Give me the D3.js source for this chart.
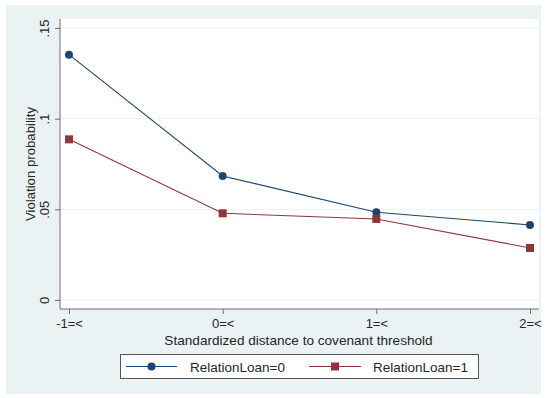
<!DOCTYPE html>
<html>
<head>
<meta charset="utf-8">
<script src="https://cdn.jsdelivr.net/npm/d3@7"></script>
<style>
  html, body { margin: 0; padding: 0; background: #ffffff; }
  svg { display: block; font-family: "Liberation Sans", Arial, sans-serif; }
</style>
</head>
<body>
<svg id="chart" width="548" height="398"></svg>
<script>
// Distance buckets along the x axis
const categories = ["-1=<", "0=<", "1=<", "2=<"];
// Predicted violation probability by relationship-loan status
const relation0 = [0.1353, 0.0684, 0.0484, 0.0414];
const relation1 = [0.0886, 0.0478, 0.0447, 0.0287];
const yTicks = [0, 0.05, 0.1, 0.15];
const yTickLabels = ["0", ".05", ".1", ".15"];
const seriesNames = ["RelationLoan=0", "RelationLoan=1"];

const svg = d3.select("#chart");
const navy = "#1a476f", maroon = "#90353b";
const ink = "#262626";

// outer graph region
svg.append("rect").attr("x", 6).attr("y", 5).attr("width", 535).attr("height", 389)
  .attr("fill", "#eaf2f3");

const plot = { left: 60, right: 539, top: 19, bottom: 309 };
svg.append("rect").attr("x", plot.left).attr("y", plot.top)
  .attr("width", plot.right - plot.left).attr("height", plot.bottom - plot.top)
  .attr("fill", "#ffffff");

const x = d3.scalePoint().domain(categories).range([69, 530]);
const y = d3.scaleLinear().domain([0, 0.15]).range([300, 28]);

// gridlines
svg.append("g").selectAll("line").data(yTicks).join("line")
  .attr("x1", plot.left).attr("x2", plot.right)
  .attr("y1", d => y(d)).attr("y2", d => y(d))
  .attr("stroke", "#eaf2f3").attr("stroke-width", 1);

// y axis with vertical tick labels
const yAxis = svg.append("g").attr("transform", `translate(${plot.left},0)`)
  .call(d3.axisLeft(y).tickValues(yTicks).tickFormat((d, i) => yTickLabels[i]).tickSize(5));
yAxis.select(".domain").attr("stroke", "#6e6e6e").attr("d", `M0,${plot.top}V${plot.bottom}`);
yAxis.selectAll(".tick line").attr("stroke", "#6e6e6e");
yAxis.selectAll(".tick text")
  .attr("font-size", 13).attr("fill", ink)
  .attr("x", 0).attr("y", 0).attr("dy", "0.35em")
  .attr("text-anchor", "middle")
  .attr("transform", "translate(-16,0) rotate(-90)");

// x axis
const xAxis = svg.append("g").attr("transform", `translate(0,${plot.bottom})`)
  .call(d3.axisBottom(x).tickSize(5).tickPadding(5));
xAxis.select(".domain").attr("stroke", "#6e6e6e").attr("d", `M${plot.left},0H${plot.right}`);
xAxis.selectAll(".tick line").attr("stroke", "#6e6e6e");
xAxis.selectAll(".tick text").attr("font-size", 13).attr("fill", ink);

// axis titles
svg.append("text").attr("x", (plot.left + plot.right) / 2 - 1).attr("y", 345)
  .attr("text-anchor", "middle").attr("font-size", 13.6).attr("fill", ink)
  .text("Standardized distance to covenant threshold");
svg.append("text").attr("transform", `translate(35,${(plot.top + plot.bottom) / 2}) rotate(-90)`)
  .attr("text-anchor", "middle").attr("font-size", 13.2).attr("fill", ink)
  .text("Violation probability");

// series lines and markers
const line = d3.line().x((d, i) => x(categories[i])).y(d => y(d));
svg.append("path").datum(relation0).attr("d", line)
  .attr("fill", "none").attr("stroke", navy).attr("stroke-width", 1.1);
svg.append("path").datum(relation1).attr("d", line)
  .attr("fill", "none").attr("stroke", maroon).attr("stroke-width", 1.1);
svg.append("g").selectAll("circle").data(relation0).join("circle")
  .attr("cx", (d, i) => x(categories[i])).attr("cy", d => y(d)).attr("r", 4)
  .attr("fill", navy);
svg.append("g").selectAll("rect").data(relation1).join("rect")
  .attr("x", (d, i) => x(categories[i]) - 4).attr("y", d => y(d) - 4)
  .attr("width", 8).attr("height", 8).attr("fill", maroon);

// legend
svg.append("rect").attr("x", 120.5).attr("y", 354.5).attr("width", 358).attr("height", 24)
  .attr("fill", "#ffffff").attr("stroke", "#555").attr("stroke-width", 1);
const legend = [
  { name: seriesNames[0], color: navy, shape: "circle", x1: 126, x2: 177, tx: 190 },
  { name: seriesNames[1], color: maroon, shape: "square", x1: 309, x2: 361, tx: 373 }
];
const lg = svg.append("g").selectAll("g").data(legend).join("g");
lg.append("line").attr("x1", d => d.x1).attr("x2", d => d.x2).attr("y1", 366.5).attr("y2", 366.5)
  .attr("stroke", d => d.color).attr("stroke-width", 1.1);
lg.each(function(d) {
  const g = d3.select(this), cx = (d.x1 + d.x2) / 2;
  if (d.shape === "circle") g.append("circle").attr("cx", cx).attr("cy", 366.5).attr("r", 4).attr("fill", d.color);
  else g.append("rect").attr("x", cx - 4).attr("y", 362.5).attr("width", 8).attr("height", 8).attr("fill", d.color);
});
lg.append("text").attr("x", d => d.tx).attr("y", 371.5).attr("font-size", 13.5).attr("fill", ink)
  .text(d => d.name);
</script>
</body>
</html>
